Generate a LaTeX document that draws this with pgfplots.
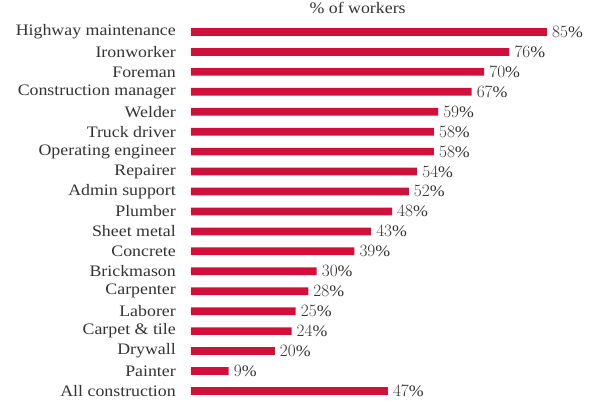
\documentclass[border=0pt]{standalone}
\usepackage{fontspec}
\setmainfont{Liberation Serif}[FakeStretch=1.115]
\usepackage{pgfplots}
\pgfplotsset{compat=1.18}
\definecolor{barred}{HTML}{D0103A}
\definecolor{txt}{HTML}{333333}
\begin{document}
\begin{tikzpicture}
\path[use as bounding box] (0,0) rectangle (594pt,400pt);
\begin{axis}[
  at={(191pt,-0.9pt)}, anchor=south west,
  scale only axis, width=356pt, height=378.9pt,
  xbar, bar width=7.7pt,
  xmin=0, xmax=85,
  ymin=-0.5, ymax=18.5, y dir=reverse,
  axis line style={draw=none},
  hide x axis,
  ytick={0,...,18},
  yticklabels={Highway maintenance,Ironworker,Foreman,Construction manager,Welder,Truck driver,Operating engineer,Repairer,Admin support,Plumber,Sheet metal,Concrete,Brickmason,Carpenter,Laborer,Carpet \& tile,Drywall,Painter,All construction},
  major tick length=0pt,
  yticklabel style={font=\fontsize{16}{16}\selectfont, text=txt, inner sep=0pt, xshift=-15pt},
  nodes near coords={\pgfmathprintnumber{\pgfplotspointmeta}\%},
  nodes near coords style={font=\fontsize{16}{16}\selectfont, text=txt, inner sep=0pt, anchor=west, xshift=5pt},
  point meta=explicit,
  clip=false,
  title={\% of workers},
  title style={font=\fontsize{16}{16}\selectfont, text=txt, at={(0.468,1)}, anchor=base, yshift=3pt},
]
\addplot[fill=barred, draw=none] table[x=v, y=i, meta=v] {
i v
0 85
1 76
2 70
3 67
4 59
5 58
6 58
7 54
8 52
9 48
10 43
11 39
12 30
13 28
14 25
15 24
16 20
17 9
18 47
};
\end{axis}
\end{tikzpicture}
\end{document}
